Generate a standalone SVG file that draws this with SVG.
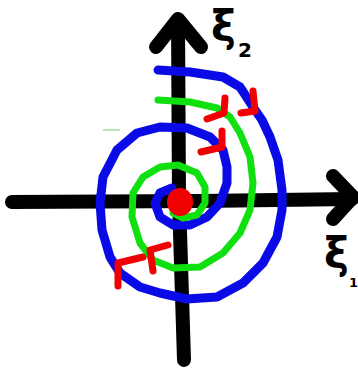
<svg xmlns="http://www.w3.org/2000/svg" width="358" height="369" viewBox="0 0 358 369">
<style>
.ax{fill:none;stroke:#000;stroke-width:14;stroke-linecap:round;stroke-linejoin:round}
.bl{fill:none;stroke:#0a0ae6;stroke-width:9;stroke-linecap:round;stroke-linejoin:round}
.gr{fill:none;stroke:#10e010;stroke-width:7;stroke-linecap:round;stroke-linejoin:round}
.rd{fill:none;stroke:#f00000;stroke-width:7;stroke-linecap:round;stroke-linejoin:round}
.lb{font-family:"DejaVu Sans",sans-serif;font-weight:bold;fill:#000}
</style>
<rect width="358" height="369" fill="#fff"/>
<g id="axes">
<path class="ax" d="M12,202 L200,201 L352,199"/>
<path class="ax" d="M333,176 L353,197 L333,219"/>
<path class="ax" d="M178,20 L179,200 L184,360"/>
<path class="ax" d="M156,47 L178,19 L201,47"/>
</g>
<line x1="103" y1="130" x2="120" y2="130" stroke="#b8e8b8" stroke-width="2"/>
<g id="blue-spiral">
<path class="bl" d="M158,70 L190,72 L223,77 L240,87 L253,107 L262,120 L270,137 L278,160 L282,190 L282,210 L277,237 L263,263 L243,283 L217,297 L187,299 L160,293 L140,287 L120,273 L110,257 L102,230 L100,203 L103,177 L117,150 L137,133 L160,127 L187,128 L210,137 L223,150 L227,167 L227,183 L220,203 L207,217 L190,225 L173,225 L160,217 L155,203 L160,193 L172,188"/>
</g>
<g id="green-spiral">
<path class="gr" d="M158,100 L190,102 L217,108 L230,117 L240,133 L250,157 L253,183 L250,210 L240,233 L223,253 L200,267 L173,268 L153,260 L140,243 L132,217 L133,193 L143,177 L160,167 L178,165 L197,173 L205,187 L205,203 L197,215 L183,218 L173,213"/>
</g>
<g id="equilibrium">
<ellipse cx="180" cy="202" rx="13" ry="14" fill="#f00000"/>
</g>
<g id="arrowheads">
<path class="rd" d="M225,98 L224,113 L207,119"/>
<path class="rd" d="M253,91 L255,111 L241,113"/>
<path class="rd" d="M222,131 L222,147 L201,152"/>
<path class="rd" d="M168,245 L150,250 L153,271"/>
<path class="rd" d="M143,257 L118,263 L118,286"/>
</g>
<g id="labels">
<text class="lb" x="211" y="41" font-size="42">ξ</text>
<text class="lb" x="238" y="57" font-size="20">2</text>
<text class="lb" x="324" y="268" font-size="42">ξ</text>
<text class="lb" x="349" y="287" font-size="13">1</text>
</g>
</svg>
